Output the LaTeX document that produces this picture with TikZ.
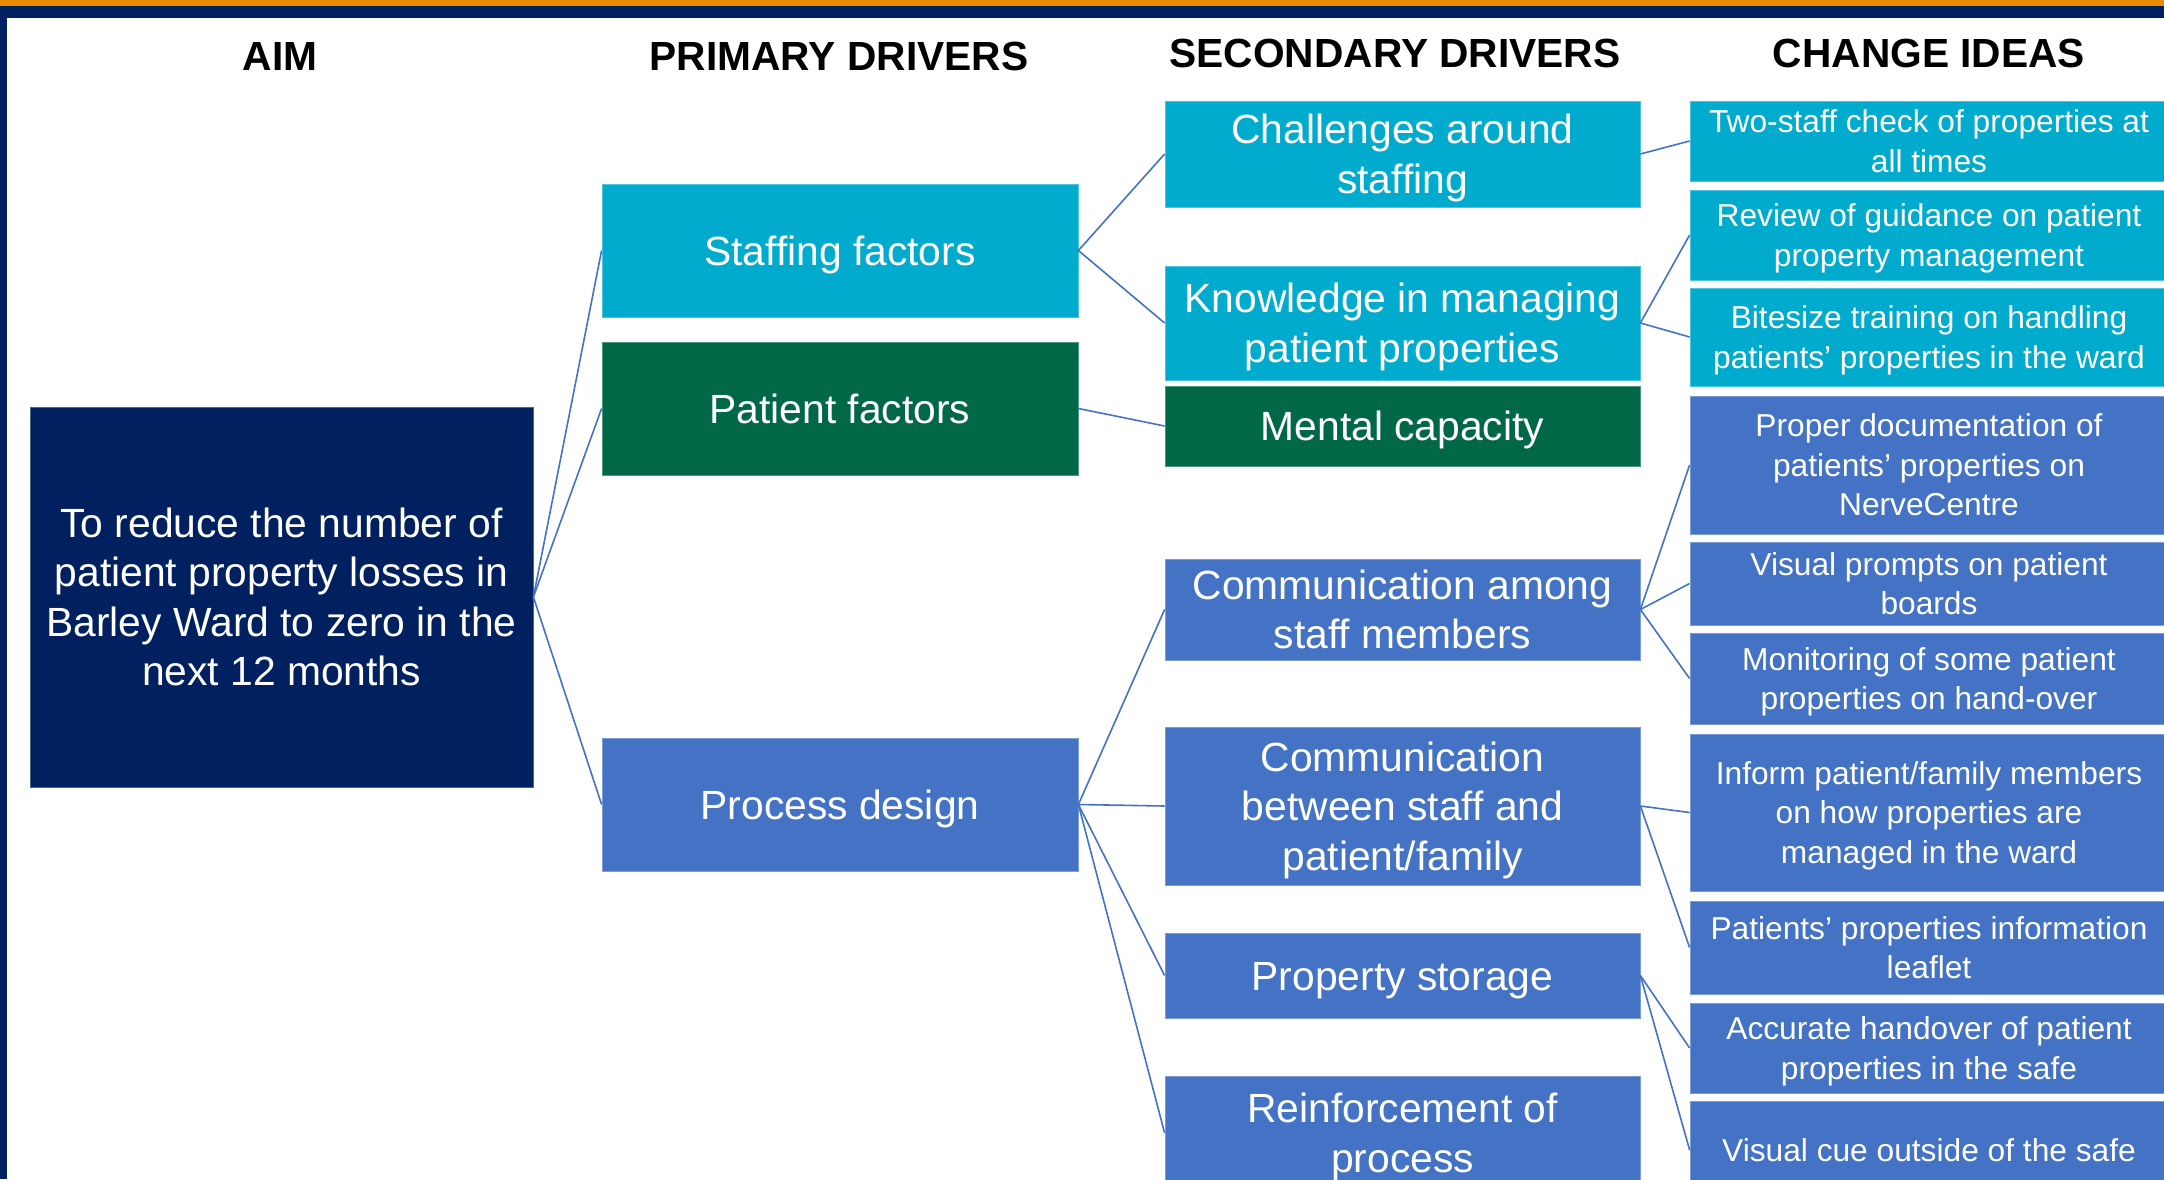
\documentclass[tikz,border=0pt]{standalone}
\usepackage{fontspec}
\setmainfont{Liberation Sans}

\definecolor{aimNavy}{HTML}{002060}
\definecolor{barOrange}{HTML}{ED8B00}
\definecolor{drvCyan}{RGB}{0,171,205}
\definecolor{drvGreen}{RGB}{0,103,71}
\definecolor{drvBlue}{HTML}{4472C4}

% line strut that keeps the capitals centred in each box
\newcommand\capstrut{\rule[\dimexpr0.358em-0.5\baselineskip\relax]{0pt}{\baselineskip}}

\tikzset{
  box/.style={fill=#1, draw=#1!70!white, line width=0.8pt, text=white,
    inner sep=0pt, align=flush center, font=\fontsize{40.8}{49.5}\selectfont,
    execute at begin node=\capstrut, execute at end node=\capstrut},
  primary/.style={box=#1, minimum width=476pt, text width=466pt},
  secondary/.style={box=#1, minimum width=475pt, text width=465pt},
  idea/.style={box=#1, minimum width=478pt, text width=468pt,
    font=\fontsize{31.7}{39.5}\selectfont},
  heading/.style={font=\bfseries\fontsize{40.7}{48}\selectfont},
  link/.style={drvBlue, line width=1.6pt},
}

\begin{document}
\begin{tikzpicture}[x=1pt, y=-1pt]
  \useasboundingbox (0,0) rectangle (2164,1179);
  \clip (0,0) rectangle (2164,1179);
  \fill[white] (0,0) rectangle (2164,1179);
  % frame bars
  \fill[barOrange] (0,0) rectangle (2164,6);
  \fill[aimNavy] (0,6) rectangle (2164,18);
  \fill[aimNavy] (0,6) rectangle (7,1179);

  % column headings
  \node[heading] (hAim) at (280,56.5) {AIM};
  \node[heading] (hPrim) at (839,56.5) {PRIMARY DRIVERS};
  \node[heading] (hSec) at (1395,53.5) {SECONDARY DRIVERS};
  \node[heading] (hIdea) at (1929,53.5) {CHANGE IDEAS};

  % aim
  \node[box=aimNavy, minimum width=503pt, text width=490pt, minimum height=380pt] (aim) at (281.5,597)
    {To reduce the number of\\patient property losses in\\Barley Ward to zero in the\\next 12 months};

  % primary drivers
  \node[primary=drvCyan, minimum height=133pt] (staff) at (840,250.5) {Staffing factors};
  \node[primary=drvGreen, minimum height=133pt] (patient) at (840,408.5) {Patient factors};
  \node[primary=drvBlue, minimum height=133pt] (process) at (840,804.5) {Process design};

  % secondary drivers
  \node[secondary=drvCyan, minimum height=106pt] (challenge) at (1402.5,154) {Challenges around\\staffing};
  \node[secondary=drvCyan, minimum height=114pt] (knowledge) at (1402.5,323) {Knowledge in managing\\patient properties};
  \node[secondary=drvGreen, minimum height=80pt] (mental) at (1402.5,426) {Mental capacity};
  \node[secondary=drvBlue, minimum height=101pt] (commStaff) at (1402.5,609.5) {Communication among\\staff members};
  \node[secondary=drvBlue, minimum height=158pt] (commFamily) at (1402.5,806) {Communication\\between staff and\\patient/family};
  \node[secondary=drvBlue, minimum height=85pt] (storage) at (1402.5,975.5) {Property storage};
  \node[secondary=drvBlue, minimum height=114pt] (reinforce) at (1402.5,1133) {Reinforcement of\\process};

  % change ideas
  \node[idea=drvCyan, minimum height=80pt] (twoStaff) at (1929,141) {Two-staff check of properties at\\all times};
  \node[idea=drvCyan, minimum height=90pt] (review) at (1929,235) {Review of guidance on patient\\property management};
  \node[idea=drvCyan, minimum height=98pt] (bitesize) at (1929,337) {Bitesize training on handling\\patients’ properties in the ward};
  \node[idea=drvBlue, minimum height=138pt] (properDoc) at (1929,465) {Proper documentation of\\patients’ properties on\\NerveCentre};
  \node[idea=drvBlue, minimum height=83pt] (prompts) at (1929,583.5) {Visual prompts on patient\\boards};
  \node[idea=drvBlue, minimum height=91pt] (monitor) at (1929,678.5) {Monitoring of some patient\\properties on hand-over};
  \node[idea=drvBlue, minimum height=157pt] (inform) at (1929,812.5) {Inform patient/family members\\on how properties are\\managed in the ward};
  \node[idea=drvBlue, minimum height=93pt] (leaflet) at (1929,947.5) {Patients’ properties information\\leaflet};
  \node[idea=drvBlue, minimum height=90pt] (handover) at (1929,1048) {Accurate handover of patient\\properties in the safe};
  \node[idea=drvBlue, minimum height=98pt] (cue) at (1929,1150) {Visual cue outside of the safe};

  % connectors
  \foreach \from/\to in {aim/staff, aim/patient, aim/process,
      staff/challenge, staff/knowledge, patient/mental,
      process/commStaff, process/commFamily, process/storage, process/reinforce,
      challenge/twoStaff, knowledge/review, knowledge/bitesize,
      commStaff/properDoc, commStaff/prompts, commStaff/monitor,
      commFamily/inform, commFamily/leaflet,
      storage/handover, storage/cue}
    \draw[link] (\from.east) -- (\to.west);
\end{tikzpicture}
\end{document}
